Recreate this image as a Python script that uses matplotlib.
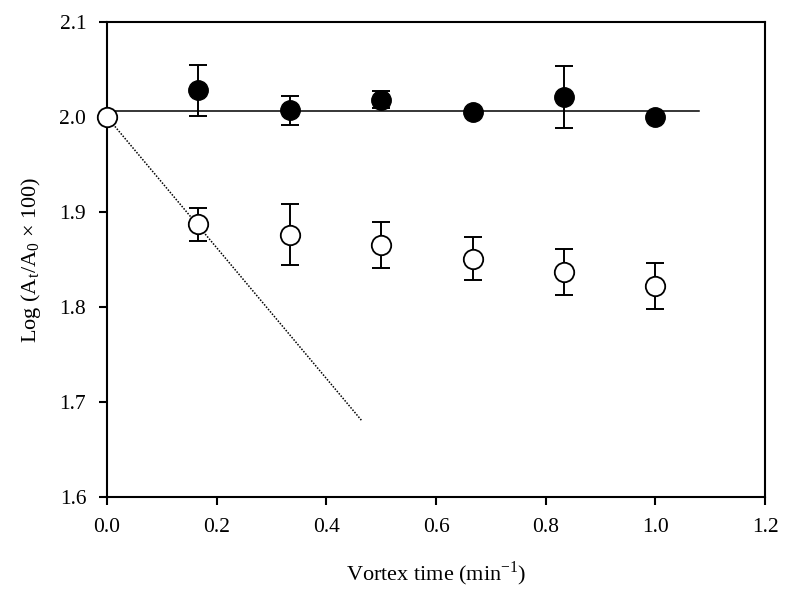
import numpy as np
import matplotlib
matplotlib.use('Agg')
import matplotlib.pyplot as plt

# serif text like the original
plt.rcParams['font.family'] = ['Liberation Serif', 'DejaVu Serif']
plt.rcParams['mathtext.fontset'] = 'custom'
plt.rcParams['mathtext.rm'] = 'Liberation Serif'

# vortex time points
t = [1/6, 2/6, 3/6, 4/6, 5/6, 1.0]

# filled circles
filled_y = [2.028, 2.007, 2.018, 2.005, 2.021, 2.000]
filled_err = [0.027, 0.015, 0.009, 0.003, 0.033, 0.002]

# open circles
open_t = [0.0] + t
open_y = [2.000, 1.887, 1.876, 1.865, 1.851, 1.837, 1.822]
open_err = [0.0, 0.017, 0.032, 0.024, 0.023, 0.024, 0.024]

# reference lines
hline_x = [0.0, 1.08]
hline_y = [2.006, 2.006]
dot_x = [0.0, 0.465]
dot_y = [2.0, 1.68]

fig = plt.figure(figsize=(7.91, 6.02), dpi=100)
ax = fig.add_axes([0.1353, 0.1744, 0.832, 0.789])

ax.plot(hline_x, hline_y, color='black', lw=1.1, zorder=1)
ax.plot(dot_x, dot_y, color='black', lw=1.1, ls=(0, (1, 1)), zorder=1)

ax.errorbar(t, filled_y, yerr=filled_err, fmt='none', ecolor='black',
            elinewidth=1.4, capsize=6.5, capthick=1.4, zorder=2)
ax.plot(t, filled_y, 'o', color='black', ms=14, zorder=3)

ax.errorbar(open_t, open_y, yerr=open_err, fmt='none', ecolor='black',
            elinewidth=1.4, capsize=6.5, capthick=1.4, zorder=2)
ax.plot(open_t, open_y, 'o', mfc='white', mec='black', mew=1.3, ms=14,
        zorder=3, clip_on=False)

ax.set_xlim(0, 1.2)
ax.set_ylim(1.6, 2.1)
ax.set_xticks(np.arange(0, 1.21, 0.2))
ax.set_yticks(np.arange(1.6, 2.11, 0.1))
ax.xaxis.set_major_formatter(plt.FormatStrFormatter('%.1f'))
ax.yaxis.set_major_formatter(plt.FormatStrFormatter('%.1f'))
ax.tick_params(direction='out', length=6, width=1.5, labelsize=15.5,
               top=False, right=False, pad=9)
for s in ax.spines.values():
    s.set_linewidth(1.5)

ax.set_xlabel(r'Vortex time (min$^{\mathregular{-1}}$)', fontsize=16, labelpad=16)
ax.set_ylabel(r'Log (A$_{\mathregular{t}}$/A$_{\mathregular{0}}$ $\times$ 100)',
              fontsize=16, labelpad=12)

plt.savefig('out.png', dpi=100)
